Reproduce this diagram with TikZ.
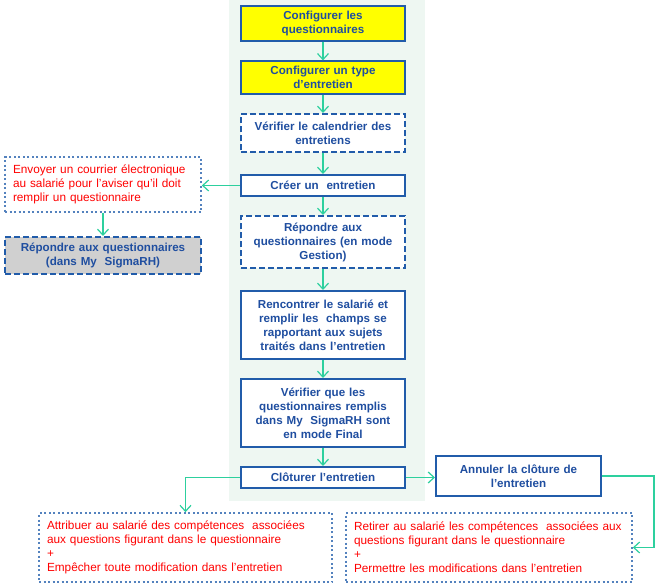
\documentclass[tikz,border=0pt]{standalone}
\usepackage{fontspec}
\setmainfont{Liberation Sans}
\usetikzlibrary{arrows.meta}
\definecolor{bordblue}{RGB}{33,92,170}
\definecolor{txtblue}{RGB}{31,78,160}
\definecolor{dotblue}{RGB}{84,130,190}
\definecolor{arrgreen}{RGB}{45,208,158}
\definecolor{panel}{RGB}{238,247,242}
\definecolor{greyfill}{RGB}{208,208,208}
\definecolor{ylw}{RGB}{255,255,0}
\begin{document}
\begin{tikzpicture}[x=1pt,y=-1pt,
  bluetext/.style={text=txtblue,font=\fontsize{11.6}{14}\selectfont\bfseries,align=center},
  redtext/.style={text=red,font=\fontsize{11.8}{14}\selectfont,align=left},
  mainbox/.style={bluetext,draw=bordblue,line width=2pt,fill=white,minimum width=164pt,text width=154pt,inner sep=2pt},
  ybox/.style={mainbox,fill=ylw,line width=1.2pt},
  dbox/.style={mainbox,dash pattern=on 6pt off 3pt},
  notebox/.style={redtext,draw=dotblue,line width=1.6pt,dash pattern=on 2pt off 2.5pt,fill=white,inner sep=2pt},
  flow/.style={draw=arrgreen,line width=1.2pt,-{Straight Barb[length=6pt,width=11pt]}}]
\useasboundingbox (0,0) rectangle (656,586);
\fill[white] (0,0) rectangle (656,586);
\fill[panel] (229,0) rectangle (425,501);

\node[ybox,minimum height=35pt] (b1) at (323,23.5) {Configurer les\\questionnaires};
\node[ybox,minimum height=33pt] (b2) at (323,77.5) {Configurer un type\\d’entretien};
\node[dbox,minimum height=38pt] (b3) at (323,133) {Vérifier le calendrier des\\entretiens};
\node[mainbox,minimum height=21pt] (b4) at (323,185.5) {Créer un\ \ entretien};
\node[dbox,minimum height=52pt] (b5) at (323,242) {Répondre aux\\questionnaires (en mode\\Gestion)};
\node[mainbox,minimum height=68pt] (b6) at (323,325) {Rencontrer le salarié et\\remplir les\ \ champs se\\rapportant aux sujets\\traités dans l’entretien};
\node[mainbox,minimum height=68pt] (b7) at (323,413) {Vérifier que les\\questionnaires remplis\\dans My\ \ SigmaRH sont\\en mode Final};
\node[mainbox,minimum height=21pt] (b8) at (323,477.5) {Clôturer l’entretien};
\node[mainbox,minimum width=165pt,text width=155pt,minimum height=40pt] (ann) at (518.5,476) {Annuler la clôture de\\l’entretien};

\node[notebox,minimum width=196pt,text width=180pt,minimum height=55pt] (env) at (103,184.5) {Envoyer un courrier électronique\\au salarié pour l’aviser qu’il doit\\remplir un questionnaire};
\node[mainbox,dash pattern=on 6pt off 3pt,fill=greyfill,minimum width=196pt,text width=186pt,minimum height=37pt] (rep) at (103,255.5) {Répondre aux questionnaires\\(dans My\ \ SigmaRH)};

\node[notebox,minimum width=293pt,text width=277pt,minimum height=69pt] (bl) at (185.5,547.5) {Attribuer au salarié des compétences\ \ associées\\aux questions figurant dans le questionnaire\\+\\Empêcher toute modification dans l’entretien};
\node[notebox,minimum width=286pt,text width=270pt,minimum height=69pt] (br) at (489,547.5) {Retirer au salarié les compétences\ \ associées aux\\questions figurant dans le questionnaire\\+\\Permettre les modifications dans l’entretien};

\coordinate (c1) at (654,476);

\draw[flow] (b1.south) -- (b2.north);
\draw[flow] (b2.south) -- (b3.north);
\draw[flow] (b3.south) -- (b4.north);
\draw[flow] (b4.south) -- (b5.north);
\draw[flow] (b5.south) -- (b6.north);
\draw[flow] (b6.south) -- (b7.north);
\draw[flow] (b7.south) -- (b8.north);
\draw[flow] (b4.west) -- (b4.west -| env.east);
\draw[flow] (env.south) -- (rep.north);
\draw[flow] (b8.east) -- (b8.east -| ann.west);
\draw[flow] (b8.west) -| (bl.north);
\draw[flow] (ann.east) -- (c1) |- (br.east);
\end{tikzpicture}
\end{document}
